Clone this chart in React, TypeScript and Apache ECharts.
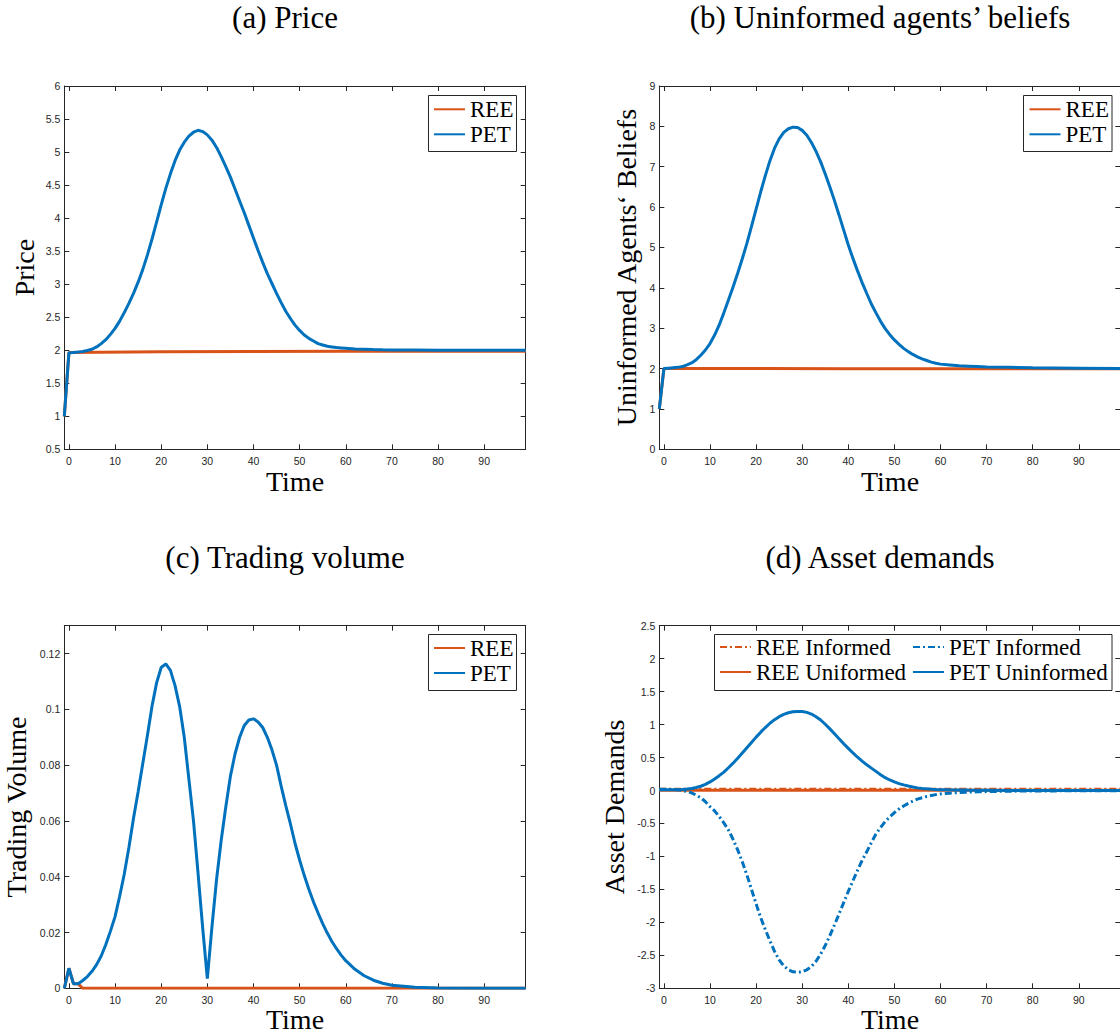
import React, { useEffect, useRef } from "react";
import * as echarts from "echarts";

// ---------- data ----------
const TIME = [
  -1, 0, 1, 2, 3, 4, 5, 6, 7, 8,
  9, 10, 11, 12, 13, 14, 15, 16, 17, 18,
  19, 20, 21, 22, 23, 24, 25, 26, 27, 28,
  29, 30, 31, 32, 33, 34, 35, 36, 37, 38,
  39, 40, 41, 42, 43, 44, 45, 46, 47, 48,
  49, 50, 51, 52, 53, 54, 55, 56, 57, 58,
  59, 60,
  62, 64, 66, 68, 70, 75, 80, 90, 99,
];

const PRICE_PET = [
  1.0, 1.96, 1.965, 1.972, 1.98, 1.995, 2.015, 2.05, 2.1, 2.16,
  2.24, 2.33, 2.44, 2.57, 2.71, 2.86, 3.03, 3.22, 3.44, 3.68,
  3.94, 4.2, 4.45, 4.67, 4.87, 5.03, 5.15, 5.24, 5.3, 5.33,
  5.31, 5.26, 5.18, 5.07, 4.93, 4.78, 4.62, 4.44, 4.26, 4.08,
  3.89, 3.7, 3.51, 3.33, 3.16, 3.01, 2.86, 2.72, 2.59, 2.48,
  2.38, 2.3, 2.23, 2.18, 2.14, 2.1, 2.08, 2.06, 2.05, 2.04,
  2.035, 2.03,
  2.02, 2.015, 2.01, 2.007, 2.005, 2.003, 2.0, 2.0, 2.0,
];

const BELIEF_PET = [
  1.0, 2.0, 2.01, 2.02, 2.03, 2.05, 2.09, 2.14, 2.22, 2.33,
  2.46, 2.62, 2.83, 3.08, 3.38, 3.7, 4.02, 4.36, 4.72, 5.1,
  5.52, 5.95, 6.38, 6.78, 7.15, 7.46, 7.69, 7.85, 7.94, 7.98,
  7.97, 7.9, 7.78, 7.6, 7.38, 7.12, 6.82, 6.5, 6.16, 5.8,
  5.43, 5.06, 4.73, 4.42, 4.13, 3.86, 3.6, 3.38, 3.17, 2.99,
  2.84, 2.71, 2.6, 2.5, 2.42, 2.35, 2.29, 2.24, 2.2, 2.16,
  2.13, 2.11,
  2.09, 2.07, 2.06, 2.05, 2.04, 2.03, 2.02, 2.01, 2.0,
];

const VOLUME_PET = [
  0, 0.0072, 0.0016, 0.0016, 0.0028, 0.0042, 0.0061, 0.0085, 0.0116, 0.0157,
  0.0205, 0.0257, 0.033, 0.041, 0.0505, 0.061, 0.0705, 0.0805, 0.0905, 0.101,
  0.1095, 0.115, 0.1163, 0.114, 0.1085, 0.101, 0.09, 0.075, 0.06, 0.041,
  0.0215, 0.0035, 0.022, 0.039, 0.053, 0.065, 0.076, 0.084, 0.09, 0.0942,
  0.0962, 0.0966, 0.0955, 0.0935, 0.09, 0.0855, 0.08, 0.0725, 0.0655, 0.059,
  0.052, 0.046, 0.0405, 0.0355, 0.031, 0.027, 0.0232, 0.0198, 0.0168, 0.0142,
  0.0119, 0.0099,
  0.0068, 0.0045, 0.0029, 0.0018, 0.0011, 0.0004, 0.0001, 0, 0,
];

const DEMAND_PET_UNINFORMED = [
  0.01, 0.01, 0.01, 0.01, 0.012, 0.016, 0.022, 0.03, 0.045, 0.065,
  0.093, 0.13, 0.175, 0.225, 0.28, 0.345, 0.415, 0.49, 0.57, 0.65,
  0.73, 0.81, 0.885, 0.955, 1.02, 1.075, 1.12, 1.155, 1.18, 1.195,
  1.2, 1.198, 1.185, 1.16, 1.12, 1.07, 1.005, 0.935, 0.86, 0.785,
  0.71, 0.64, 0.57, 0.505, 0.445, 0.39, 0.34, 0.29, 0.24, 0.195,
  0.16, 0.13, 0.105, 0.085, 0.068, 0.053, 0.04, 0.032, 0.025, 0.02,
  0.016, 0.013,
  0.01, 0.008, 0.006, 0.005, 0.004, 0.002, 0.001, 0, 0,
];

const DEMAND_PET_INFORMED = [
  0.02, 0.02, 0.02, 0.015, 0.01, 0.0, -0.015, -0.035, -0.07, -0.11,
  -0.17, -0.245, -0.31, -0.395, -0.49, -0.6, -0.74, -0.9, -1.08, -1.28,
  -1.5, -1.72, -1.93, -2.11, -2.28, -2.44, -2.57, -2.66, -2.72, -2.75,
  -2.755, -2.75, -2.72, -2.67, -2.59, -2.48, -2.35, -2.2, -2.04, -1.87,
  -1.7, -1.53, -1.37, -1.21, -1.06, -0.93, -0.79, -0.66, -0.56, -0.47,
  -0.4, -0.335, -0.28, -0.235, -0.195, -0.16, -0.13, -0.11, -0.09, -0.075,
  -0.062, -0.052,
  -0.04, -0.03, -0.025, -0.02, -0.016, -0.01, -0.007, -0.004, -0.002,
];

const TIME_REE = [-1, 0, 20, 40, 60, 80, 99];
const PRICE_REE = [1.0, 1.965, 1.975, 1.98, 1.983, 1.985, 1.985];
const BELIEF_REE = [1.0, 2.0, 2.0, 1.998, 1.997, 1.996, 1.995];
const DEMAND_REE_INFORMED = [0.02, 0.02, 0.02, 0.02, 0.02, 0.02, 0.02];
const DEMAND_REE_UNINFORMED = [0.003, 0.003, 0.003, 0.003, 0.003, 0.003, 0.003];

const TIME_REE_VOL = [-1, 0, 1, 2, 3, 99];
const VOLUME_REE = [0, 0.0072, 0.0016, 0.0016, 0, 0];

const X_TICKS = [0, 10, 20, 30, 40, 50, 60, 70, 80, 90];
const Y_TICKS_PRICE = [0.5, 1, 1.5, 2, 2.5, 3, 3.5, 4, 4.5, 5, 5.5, 6];
const Y_TICKS_BELIEF = [0, 1, 2, 3, 4, 5, 6, 7, 8, 9];
const Y_TICKS_VOLUME = [0, 0.02, 0.04, 0.06, 0.08, 0.1, 0.12];
const Y_TICKS_DEMAND = [-3, -2.5, -2, -1.5, -1, -0.5, 0, 0.5, 1, 1.5, 2, 2.5];

const TITLES = ["(a) Price", "(b) Uninformed agents’ beliefs", "(c) Trading volume", "(d) Asset demands"];
const Y_NAMES = ["Price", "Uninformed Agents‘ Beliefs", "Trading Volume", "Asset Demands"];
const X_NAME = "Time";

// ---------- style ----------
const AX = "#262626";
const BLUE = "#0072BD";
const ORANGE = "#D95319";
const SERIF = '"Liberation Serif", "Times New Roman", serif';
const SANS = '"Liberation Sans", Arial, sans-serif';
const DASHDOT = [7, 3, 2, 3];

const PANELS = [
  { left: 64.3, top: 86, width: 461.4, height: 363.3, yMin: 0.5, yMax: 6, yTicks: Y_TICKS_PRICE },
  { left: 659.3, top: 86, width: 461, height: 363.3, yMin: 0, yMax: 9, yTicks: Y_TICKS_BELIEF },
  { left: 64.3, top: 625.7, width: 461.4, height: 362.6, yMin: 0, yMax: 0.13, yTicks: Y_TICKS_VOLUME },
  { left: 659.3, top: 625.7, width: 461, height: 362.6, yMin: -3, yMax: 2.5, yTicks: Y_TICKS_DEMAND },
];

const pairs = (t: number[], v: number[]) => t.map((x, i) => [x, v[i]]);

function buildOption() {
  const grid: any[] = [];
  const xAxis: any[] = [];
  const yAxis: any[] = [];
  PANELS.forEach((p, i) => {
    grid.push({ left: p.left, top: p.top, width: p.width, height: p.height, containLabel: false, outerBoundsMode: "none" });
    const line = { show: true, onZero: false, lineStyle: { color: AX, width: 1 } };
    const tick = (vals: number[]) => ({ show: true, inside: true, length: 5, customValues: vals, lineStyle: { color: AX, width: 1 } });
    const lab = (vals: number[], margin: number) => ({
      show: true, customValues: vals, margin, color: AX, fontFamily: SANS, fontSize: 10.5,
    });
    xAxis.push({
      type: "value", gridIndex: i, min: -1, max: 99, position: "bottom",
      axisLine: line, axisTick: tick(X_TICKS), axisLabel: lab(X_TICKS, 6), splitLine: { show: false },
    });
    xAxis.push({
      type: "value", gridIndex: i, min: -1, max: 99, position: "top",
      axisLine: line, axisTick: tick(X_TICKS), axisLabel: { show: false }, splitLine: { show: false },
    });
    yAxis.push({
      type: "value", gridIndex: i, min: p.yMin, max: p.yMax, position: "left",
      axisLine: line, axisTick: tick(p.yTicks), axisLabel: lab(p.yTicks, 4), splitLine: { show: false },
    });
    yAxis.push({
      type: "value", gridIndex: i, min: p.yMin, max: p.yMax, position: "right",
      axisLine: line, axisTick: tick(p.yTicks), axisLabel: { show: false }, splitLine: { show: false },
    });
  });

  const mk = (name: string, panel: number, data: number[][], color: string, dash: any) => ({
    type: "line", name, xAxisIndex: panel * 2, yAxisIndex: panel * 2, data,
    symbol: "none", showSymbol: false, clip: true, silent: true,
    lineStyle: { color, width: 3, type: dash }, itemStyle: { color },
  });

  const series = [
    mk("REE", 0, pairs(TIME_REE, PRICE_REE), ORANGE, "solid"),
    mk("PET", 0, pairs(TIME, PRICE_PET), BLUE, "solid"),
    mk("REE", 1, pairs(TIME_REE, BELIEF_REE), ORANGE, "solid"),
    mk("PET", 1, pairs(TIME, BELIEF_PET), BLUE, "solid"),
    mk("REE", 2, pairs(TIME_REE_VOL, VOLUME_REE), ORANGE, "solid"),
    mk("PET", 2, pairs(TIME, VOLUME_PET), BLUE, "solid"),
    mk("REE Informed", 3, pairs(TIME_REE, DEMAND_REE_INFORMED), ORANGE, DASHDOT),
    mk("REE Uniformed", 3, pairs(TIME_REE, DEMAND_REE_UNINFORMED), ORANGE, "solid"),
    mk("PET Informed", 3, pairs(TIME, DEMAND_PET_INFORMED), BLUE, DASHDOT),
    mk("PET Uninformed", 3, pairs(TIME, DEMAND_PET_UNINFORMED), BLUE, "solid"),
  ];

  const legendBase = {
    orient: "vertical", itemWidth: 31, itemHeight: 14, itemGap: 0, padding: 0,
    selectedMode: false, z: 6,
    itemStyle: { opacity: 0, borderWidth: 0 },
    textStyle: { fontFamily: SERIF, fontSize: 23, color: "#000", lineHeight: 25 },
  };
  const legend = [
    { ...legendBase, data: ["REE", "PET"], left: 433, top: 96.8 },
    { ...legendBase, data: ["REE", "PET"], left: 1028.5, top: 96.8 },
    { ...legendBase, data: ["REE", "PET"], left: 433, top: 635.5 },
    { ...legendBase, data: ["REE Informed", "REE Uniformed"], left: 719, top: 634.5 },
    { ...legendBase, data: ["PET Informed", "PET Uninformed"], left: 912, top: 634.5 },
  ];

  const txt = (text: string, x: number, y: number, size: number, rot = 0) => ({
    type: "text", x, y, rotation: rot, z: 10, silent: true,
    style: {
      text, fill: "#000", font: `${size}px ${SERIF}`,
      align: "center", verticalAlign: "middle", textAlign: "center", textVerticalAlign: "middle",
    },
  });
  const box = (x: number, y: number, w: number, h: number) => ({
    type: "rect", z: 3, silent: true, shape: { x, y, width: w, height: h },
    style: { fill: "#fff", stroke: AX, lineWidth: 1 },
  });

  const graphic = [
    txt(TITLES[0], 285, 17.5, 31),
    txt(TITLES[1], 880, 17.5, 31),
    txt(TITLES[2], 285, 557.5, 31),
    txt(TITLES[3], 880, 557.5, 31),
    txt(X_NAME, 295, 481, 28),
    txt(X_NAME, 890, 481, 28),
    txt(X_NAME, 295, 1019.6, 28),
    txt(X_NAME, 890, 1019.6, 28),
    txt(Y_NAMES[0], 24.6, 267.6, 28, Math.PI / 2),
    txt(Y_NAMES[1], 626, 267.6, 28, Math.PI / 2),
    txt(Y_NAMES[2], 16.5, 807, 28, Math.PI / 2),
    txt(Y_NAMES[3], 614.5, 807, 28, Math.PI / 2),
    box(428.5, 95.5, 88, 56),
    box(1023.5, 95.5, 88.5, 56),
    box(428.5, 634.5, 88, 56),
    box(714.5, 634.5, 397.5, 56),
  ];

  return {
    animation: false,
    backgroundColor: "#fff",
    grid, xAxis, yAxis, series, legend, graphic,
  };
}

export default function App() {
  const ref = useRef<HTMLDivElement>(null);
  useEffect(() => {
    if (!ref.current) return;
    const chart = echarts.init(ref.current, undefined, { renderer: "svg" });
    chart.setOption(buildOption() as any);
    return () => chart.dispose();
  }, []);
  return (
    <div
      ref={ref}
      style={{ position: "absolute", left: 0, top: 0, width: 1120, height: 1036, background: "#fff" }}
    />
  );
}
